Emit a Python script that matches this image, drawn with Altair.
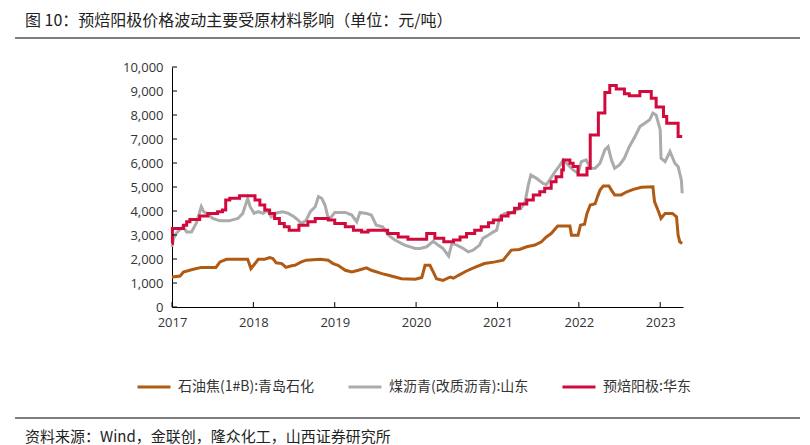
import altair as alt
import pandas as pd

TITLE = "图 10：预焙阳极价格波动主要受原材料影响（单位：元/吨）"
SOURCE = "资料来源：Wind，金联创，隆众化工，山西证券研究所"

S_BROWN = "石油焦(1#B):青岛石化"
S_GRAY = "煤沥青(改质沥青):山东"
S_RED = "预焙阳极:华东"
SERIES = [S_BROWN, S_GRAY, S_RED]
COLORS = ["#B05A14", "#ABABAB", "#D20A3C"]

# 石油焦(1#B):青岛石化  (decimal year, 元/吨)
brown_x = [2017.00, 2017.10, 2017.14, 2017.25, 2017.36, 2017.54, 2017.59, 2017.67, 2017.93, 2017.97,
           2018.02, 2018.06, 2018.14, 2018.20, 2018.24, 2018.28, 2018.35, 2018.40, 2018.47, 2018.51,
           2018.59, 2018.65, 2018.82, 2018.92, 2018.98, 2019.04, 2019.13, 2019.21, 2019.29, 2019.39,
           2019.45, 2019.58, 2019.66, 2019.82, 2019.99, 2020.07, 2020.11, 2020.17, 2020.21, 2020.25,
           2020.33, 2020.42, 2020.46, 2020.52, 2020.62, 2020.72, 2020.84, 2020.97, 2021.07, 2021.12,
           2021.17, 2021.27, 2021.36, 2021.46, 2021.54, 2021.60, 2021.66, 2021.74, 2021.89, 2021.91,
           2021.99, 2022.02, 2022.07, 2022.10, 2022.14, 2022.20, 2022.23, 2022.26, 2022.30, 2022.37,
           2022.40, 2022.44, 2022.52, 2022.59, 2022.67, 2022.77, 2022.91, 2022.93, 2022.98, 2023.01,
           2023.06, 2023.15, 2023.20, 2023.22, 2023.24, 2023.27]
brown_y = [1250, 1290, 1460, 1560, 1650, 1650, 1880, 1990, 1990, 1600,
           1810, 1990, 1990, 2060, 2020, 1840, 1810, 1650, 1720, 1740,
           1880, 1950, 1990, 1950, 1810, 1740, 1530, 1460, 1530, 1630,
           1530, 1390, 1320, 1180, 1160, 1230, 1740, 1740, 1460, 1180,
           1110, 1250, 1200, 1320, 1500, 1650, 1810, 1880, 1950, 2160,
           2370, 2400, 2510, 2580, 2720, 2920, 3060, 3370, 3370, 2990,
           2990, 3410, 3450, 3900, 4250, 4300, 4600, 4870, 5040, 5040,
           4870, 4670, 4670, 4800, 4900, 4990, 5010, 4390, 3970, 3690,
           3900, 3900, 3760, 2990, 2720, 2650]

# 煤沥青(改质沥青):山东
gray_x = [2017.00, 2017.02, 2017.05, 2017.09, 2017.14, 2017.18, 2017.24, 2017.30, 2017.36, 2017.39,
          2017.43, 2017.50, 2017.59, 2017.70, 2017.81, 2017.87, 2017.93, 2017.96, 2018.01, 2018.06,
          2018.12, 2018.17, 2018.22, 2018.29, 2018.36, 2018.43, 2018.50, 2018.55, 2018.59, 2018.65,
          2018.70, 2018.76, 2018.80, 2018.84, 2018.88, 2018.92, 2018.96, 2019.00, 2019.13, 2019.21,
          2019.27, 2019.31, 2019.39, 2019.45, 2019.51, 2019.59, 2019.66, 2019.74, 2019.86, 2019.99,
          2020.05, 2020.13, 2020.21, 2020.27, 2020.33, 2020.40, 2020.44, 2020.50, 2020.58, 2020.64,
          2020.70, 2020.78, 2020.82, 2020.89, 2020.95, 2020.99, 2021.03, 2021.09, 2021.15, 2021.23,
          2021.29, 2021.34, 2021.38, 2021.41, 2021.48, 2021.56, 2021.60, 2021.64, 2021.70, 2021.77,
          2021.81, 2021.87, 2021.93, 2021.99, 2022.03, 2022.09, 2022.14, 2022.20, 2022.26, 2022.32,
          2022.36, 2022.40, 2022.44, 2022.50, 2022.56, 2022.62, 2022.69, 2022.75, 2022.81, 2022.87,
          2022.91, 2022.95, 2023.00, 2023.01, 2023.06, 2023.12, 2023.18, 2023.22, 2023.26, 2023.27]
gray_y = [2510, 2860, 3060, 3200, 3340, 3130, 3130, 3500, 4180, 3970,
          3900, 3690, 3590, 3590, 3690, 3900, 4530, 4180, 3900, 3970,
          3900, 4040, 3760, 3930, 3970, 3900, 3760, 3620, 3480, 3620,
          3970, 4180, 4600, 4530, 4250, 3690, 3760, 3940, 3940, 3830,
          3550, 3940, 3900, 3830, 3410, 3340, 2990, 2790, 2580, 2440,
          2440, 2510, 2740, 2580, 2440, 2120, 2650, 2580, 2440, 2300,
          2370, 2580, 2860, 3000, 3130, 3200, 3760, 3900, 3900, 4040,
          4110, 4390, 5100, 5500, 5360, 5150, 5100, 5290, 5600, 5920,
          6130, 5920, 5710, 5570, 6060, 6130, 5780, 5780, 5990, 6550,
          6680, 6130, 5780, 5920, 6200, 6680, 7100, 7520, 7660, 7800,
          8080, 8000, 7380, 6200, 6060, 6480, 5990, 5850, 5290, 4740]

# 预焙阳极:华东 (stepwise price changes)
red_x = [2017.00, 2017.005, 2017.14, 2017.18, 2017.22, 2017.34, 2017.44, 2017.56, 2017.62, 2017.66,
         2017.71, 2017.83, 2018.02, 2018.08, 2018.14, 2018.20, 2018.26, 2018.32, 2018.38, 2018.44,
         2018.56, 2018.67, 2018.76, 2018.92, 2019.00, 2019.13, 2019.23, 2019.33, 2019.41, 2019.65,
         2019.78, 2019.90, 2020.13, 2020.23, 2020.34, 2020.46, 2020.54, 2020.62, 2020.72, 2020.80,
         2020.89, 2020.95, 2021.05, 2021.13, 2021.21, 2021.27, 2021.36, 2021.44, 2021.52, 2021.58,
         2021.66, 2021.72, 2021.79, 2021.81, 2021.89, 2021.93, 2021.99, 2022.10, 2022.14, 2022.24,
         2022.32, 2022.38, 2022.46, 2022.56, 2022.62, 2022.75, 2022.89, 2022.95, 2023.04, 2023.08,
         2023.22, 2023.27]
red_y = [2650, 3270, 3410, 3550, 3650, 3790, 3900, 3970, 4040, 4460,
         4530, 4640, 4460, 4250, 4040, 3900, 3690, 3480, 3340, 3200,
         3410, 3550, 3690, 3620, 3480, 3340, 3200, 3130, 3200, 3060,
         2920, 2820, 3060, 2860, 2720, 2790, 2920, 3060, 3200, 3340,
         3510, 3620, 3790, 3930, 4110, 4290, 4460, 4670, 4800, 4950,
         5220, 5430, 5710, 6130, 5990, 5850, 5500, 5780, 7170, 8080,
         8940, 9230, 9080, 8890, 8800, 8980, 8700, 8330, 7940, 7660,
         7100, 7100]

YEARS = list(range(2017, 2024))
Y_TICKS = list(range(0, 10001, 1000))

df = pd.concat([
    pd.DataFrame({"year": brown_x, "value": brown_y, "series": S_BROWN}),
    pd.DataFrame({"year": gray_x, "value": gray_y, "series": S_GRAY}),
    pd.DataFrame({"year": red_x, "value": red_y, "series": S_RED}),
], ignore_index=True)

FONT = "Open Sans"
CJK = "Noto Sans CJK SC"

x_axis = alt.Axis(values=YEARS, format="d", ticks=False, grid=False,
                  domainColor="#000000", domainWidth=1, labelFont=FONT,
                  labelFontSize=13, labelColor="#333333", labelPadding=9,
                  labelFlush=False, labelOverlap=False, title=None)
y_axis = alt.Axis(values=Y_TICKS, format=",.0f", ticks=False, grid=False,
                  domainColor="#000000", domainWidth=1, labelFont=FONT,
                  labelFontSize=13, labelColor="#333333", labelPadding=9,
                  labelOverlap=False, labelFlush=False, labelBound=False, title=None)
x_scale = alt.Scale(domain=[2017, 2023.28], nice=False, zero=False)
y_scale = alt.Scale(domain=[0, 10000], nice=False)

x_enc = alt.X("year:Q", scale=x_scale, axis=x_axis)
y_enc = alt.Y("value:Q", scale=y_scale, axis=y_axis)
color_enc = alt.Color("series:N",
                      scale=alt.Scale(domain=SERIES, range=COLORS),
                      sort=SERIES,
                      legend=alt.Legend(orient="none", legendX=-36, legendY=302,
                                        direction="horizontal", title=None,
                                        symbolType="stroke", symbolSize=1089,
                                        symbolStrokeWidth=3, labelFont=CJK,
                                        labelFontSize=14, labelColor="#333333",
                                        labelOffset=6, columnPadding=27,
                                        labelLimit=300, padding=0))

base = alt.Chart(df)
lines = base.transform_filter(alt.datum.series != S_RED).mark_line(
    strokeWidth=3, interpolate="linear").encode(x=x_enc, y=y_enc, color=color_enc,
                                                 detail="series:N")
red = base.transform_filter(alt.datum.series == S_RED).mark_line(
    strokeWidth=3, interpolate="step-after").encode(x=x_enc, y=y_enc, color=color_enc)

xticks = alt.Chart(pd.DataFrame({"year": YEARS})).mark_rule(color="#000000", strokeWidth=1).encode(
    x=x_enc, y=alt.value(240), y2=alt.value(235))
yticks = alt.Chart(pd.DataFrame({"value": Y_TICKS})).mark_rule(color="#000000", strokeWidth=1).encode(
    y=y_enc, x=alt.value(0), x2=alt.value(5))

title = alt.Chart(pd.DataFrame({"t": [TITLE]})).mark_text(
    align="left", baseline="middle", font=CJK, fontSize=16, color="#222222").encode(
    text="t:N", x=alt.value(-147), y=alt.value(-46))
source = alt.Chart(pd.DataFrame({"t": [SOURCE]})).mark_text(
    align="left", baseline="middle", font=CJK, fontSize=15, color="#222222").encode(
    text="t:N", x=alt.value(-147), y=alt.value(370))
top_rule = alt.Chart(pd.DataFrame({"a": [0]})).mark_rule(color="#555555", strokeWidth=1.5).encode(
    x=alt.value(-157), x2=alt.value(628), y=alt.value(-29))
bottom_rule = alt.Chart(pd.DataFrame({"a": [0]})).mark_rule(color="#555555", strokeWidth=1.5).encode(
    x=alt.value(-157), x2=alt.value(628), y=alt.value(351))

chart = alt.layer(lines, red, xticks, yticks, title, source, top_rule, bottom_rule).properties(
    width=511, height=240,
    autosize=alt.AutoSizeParams(type="none"),
    padding={"left": 164, "top": 59, "right": 117, "bottom": 138},
    background="white",
).configure_view(stroke=None)

chart.save("out.html", embed_options={"renderer": "svg", "actions": False})
